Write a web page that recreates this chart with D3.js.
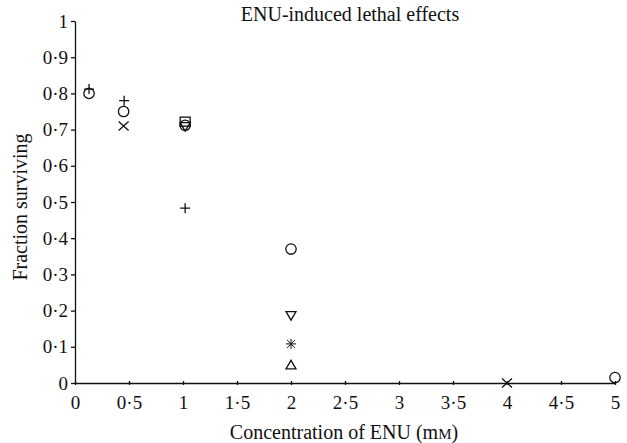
<!DOCTYPE html>
<html><head><meta charset="utf-8">
<script src="https://cdn.jsdelivr.net/npm/d3@7"></script>
<style>body{margin:0;background:#fff}svg{display:block}text{font-family:"Liberation Serif","DejaVu Serif",serif;fill:#111}</style>
</head><body><svg id="c" width="627" height="443"></svg>
<script>
const title = "ENU-induced lethal effects";
const xTicks = [0,0.5,1,1.5,2,2.5,3,3.5,4,4.5,5];
const yTicks = [0,0.1,0.2,0.3,0.4,0.5,0.6,0.7,0.8,0.9,1];
const circleX = [0.13,0.45,1.02,2,5];
const circleY = [0.80,0.75,0.712,0.37,0.015];
const plusX = [0.13,0.455,1.02];
const plusY = [0.812,0.78,0.483];
const crossX = [0.45,4];
const crossY = [0.71,0.0];
const squareX = [1.02];
const squareY = [0.722];
const triDownX = [1.02,2];
const triDownY = [0.708,0.186];
const asteriskX = [2];
const asteriskY = [0.108];
const triUpX = [2];
const triUpY = [0.05];

const svg = d3.select("#c");
const x = d3.scaleLinear().domain([0,5]).range([75,615]);
const y = d3.scaleLinear().domain([0,1]).range([383,21]);
const fmt = d => d%1===0 ? String(d) : String(d).replace(".", "\u00B7");

const xa = svg.append("g").attr("transform","translate(0,383)")
  .call(d3.axisBottom(x).tickValues(xTicks).tickFormat(fmt).tickSizeInner(3).tickSizeOuter(0).tickPadding(9));
const ya = svg.append("g").attr("transform","translate(75,0)")
  .call(d3.axisLeft(y).tickValues(yTicks).tickFormat(fmt).tickSizeInner(4).tickSizeOuter(0).tickPadding(3));
[xa,ya].forEach(a=>{
  a.selectAll("path,line").attr("stroke","#111").attr("stroke-width",1.3);
  a.selectAll("text").style("font-family",'"Liberation Serif",serif').style("font-size","19px").attr("fill","#111");
});
xa.selectAll(".tick line").attr("y1",-2).attr("y2",2);
xa.selectAll("text").attr("dy","0.75em");

svg.append("text").attr("x",350).attr("y",21).attr("text-anchor","middle").style("font-size","20px").text(title);
svg.append("text").attr("transform","translate(27,207) rotate(-90)").attr("text-anchor","middle").style("font-size","20px").text("Fraction surviving");
const xl = svg.append("text").attr("x",344).attr("y",439).attr("text-anchor","middle").style("font-size","20px");
xl.append("tspan").text("Concentration of ENU (m");
xl.append("tspan").style("font-size","15px").text("M");
xl.append("tspan").text(")");

const g = svg.append("g").attr("fill","none").attr("stroke","#111").attr("stroke-width",1.3);
const zip = (xs,ys)=>xs.map((v,i)=>[x(v),y(ys[i])]);
zip(circleX,circleY).forEach(([px,py])=>g.append("circle").attr("cx",px).attr("cy",py).attr("r",5.2));
zip(plusX,plusY).forEach(([px,py])=>g.append("path").attr("d",`M${px-5},${py}H${px+5}M${px},${py-5}V${py+5}`));
zip(crossX,crossY).forEach(([px,py])=>g.append("path").attr("d",`M${px-5},${py-4.5}L${px+5},${py+4.5}M${px-5},${py+4.5}L${px+5},${py-4.5}`));
zip(squareX,squareY).forEach(([px,py])=>g.append("rect").attr("x",px-5).attr("y",py-4.5).attr("width",10).attr("height",9));
zip(triDownX,triDownY).forEach(([px,py])=>g.append("path").attr("d",`M${px-5},${py-4}L${px+5},${py-4}L${px},${py+4.5}Z`));
zip(triUpX,triUpY).forEach(([px,py])=>g.append("path").attr("d",`M${px-5},${py+4}L${px+5},${py+4}L${px},${py-4.5}Z`));
zip(asteriskX,asteriskY).forEach(([px,py])=>g.append("path").attr("stroke-width",1)
  .attr("d",`M${px-5},${py}H${px+5}M${px},${py-5}V${py+5}M${px-4},${py-4}L${px+4},${py+4}M${px-4},${py+4}L${px+4},${py-4}`));
</script></body></html>
